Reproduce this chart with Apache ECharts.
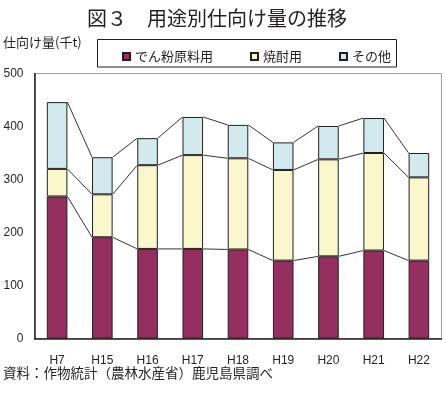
<!DOCTYPE html>
<html>
<head>
<meta charset="utf-8">
<script src="https://cdn.jsdelivr.net/npm/echarts@6/dist/echarts.min.js"></script>
<style>html,body{margin:0;padding:0;background:#fff}#c{width:446px;height:395px}</style>
</head>
<body>
<div id="c"></div>
<script>
const categories = ['H7','H15','H16','H17','H18','H19','H20','H21','H22'];
const starch = [268,191,169,169,168,147,155,166,147];
const shochu = [52,81,158,177,172,171,183,184,157];
const other = [126,70,51,72,63,52,63,66,46];
const seriesNames = ['でん粉原料用','焼酎用','その他'];
const yTicks = [0,100,200,300,400,500];

const FONT = '"Noto Sans CJK JP", sans-serif';
const NUMFONT = '"Liberation Sans", Arial, sans-serif';
const BARFRAC = 0.455;

const lvl1 = starch.slice();
const lvl2 = starch.map((v,i)=>v+shochu[i]);
const lvl3 = lvl2.map((v,i)=>v+other[i]);
const connData = [];
for (let i=0;i<categories.length-1;i++){
  connData.push([i, lvl1[i], lvl1[i+1], lvl2[i], lvl2[i+1], lvl3[i], lvl3[i+1]]);
}

const chart = echarts.init(document.getElementById('c'), null, {renderer:'canvas'});
const barBase = {type:'bar', stack:'s', barWidth:(BARFRAC*100)+'%', z:3};
chart.setOption({
  animation:false,
  backgroundColor:'#fff',
  title:{text:'図３　用途別仕向け量の推移', left:82, top:3,
    textStyle:{fontFamily:FONT, fontSize:20, fontWeight:'normal', color:'#231f20'}},
  graphic:[
    {type:'rect', shape:{x:97.5,y:39.5,width:299,height:27.5}, style:{fill:'none',stroke:'#231f20',lineWidth:1}, z:10},
    {type:'text', left:3, top:36, style:{text:'仕向け量(千t)', font:'13px '+FONT, fill:'#231f20'}},
    {type:'text', left:3, top:366, style:{text:'資料：作物統計（農林水産省）鹿児島県調べ', font:'13.5px '+FONT, fill:'#231f20'}}
  ],
  legend:{data:seriesNames, left:117, top:45, itemWidth:7, itemHeight:7, itemGap:37,
    icon:'rect', textStyle:{fontFamily:FONT, fontSize:13, color:'#231f20', padding:[0,0,0,0]}, selectedMode:false},
  grid:{left:34.5, right:4.5, top:73.5, bottom:56.5, show:true, borderColor:'#a0a0a0', borderWidth:1, containLabel:false},
  xAxis:{type:'category', data:categories,
    axisLine:{lineStyle:{color:'#231f20', width:1.5}},
    axisTick:{inside:true, length:5, lineStyle:{color:'#999'}},
    axisLabel:{fontFamily:NUMFONT, fontSize:12, color:'#231f20', margin:16}},
  yAxis:{type:'value', min:yTicks[0], max:yTicks[yTicks.length-1], interval:100,
    axisLine:{show:true, lineStyle:{color:'#231f20', width:1.5}},
    axisTick:{show:false}, splitLine:{show:false},
    axisLabel:{fontFamily:NUMFONT, fontSize:12, color:'#231f20', margin:11}},
  series:[
    Object.assign({name:seriesNames[0], data:starch, itemStyle:{color:'#952f5f', borderColor:'#231f20', borderWidth:1}}, barBase),
    Object.assign({name:seriesNames[1], data:shochu, itemStyle:{color:'#faf7cd', borderColor:'#231f20', borderWidth:1}}, barBase),
    Object.assign({name:seriesNames[2], data:other, itemStyle:{color:'#d2e9ee', borderColor:'#231f20', borderWidth:1}}, barBase),
    {type:'custom', name:'conn', data:connData, z:2, silent:true,
      encode:{x:0, y:[1,2,3,4,5,6]},
      renderItem:function(params, api){
        const i = api.value(0);
        const bw = api.size([1,0])[0]*BARFRAC;
        const children = [];
        for (let k=0;k<3;k++){
          const p1 = api.coord([i, api.value(1+2*k)]);
          const p2 = api.coord([i+1, api.value(2+2*k)]);
          children.push({type:'line', shape:{x1:p1[0]+bw/2, y1:p1[1], x2:p2[0]-bw/2, y2:p2[1]},
            style:{stroke:'#333', lineWidth:1}});
        }
        return {type:'group', children:children};
      }}
  ]
});
</script>
</body>
</html>
